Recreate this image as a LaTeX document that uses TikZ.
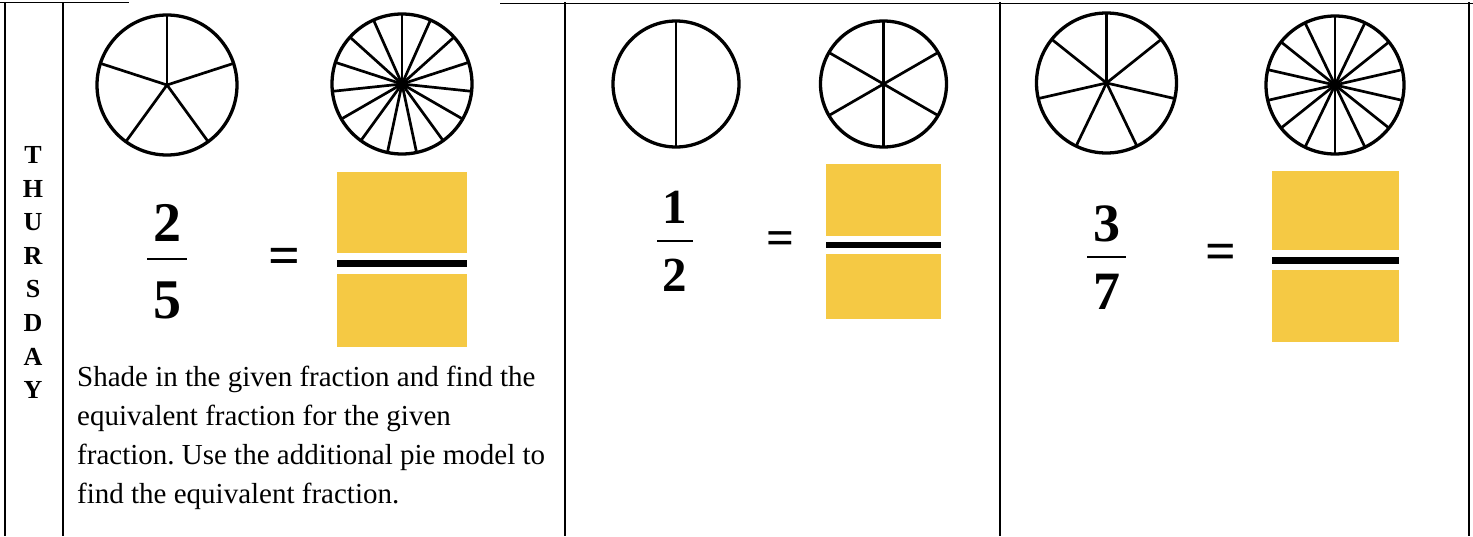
\documentclass[tikz,border=0pt]{standalone}
\usepackage{fontspec}
\setmainfont{Liberation Serif}
\usepackage{tikz}
\usetikzlibrary{positioning}
\definecolor{boxyellow}{RGB}{245,201,68}
\frenchspacing

\tikzset{
  rule/.style={line width=1.6pt},
  thin rule/.style={line width=1pt},
  rim/.style={line width=3.3pt},
  spoke/.style={line width=2.7pt},
  fracbar/.style={line width=2.2pt},
  answer/.style={fill=boxyellow, inner sep=0pt, minimum width=#1},
  answerbar/.style={fill=black, inner sep=0pt, minimum width=#1},
  numeral/.style={font=\fontsize{#1}{#1}\selectfont\bfseries, inner sep=0pt},
}

% pie model: name, centre, radius, parts
\newcommand{\piemodel}[4]{%
  \coordinate (#1) at #2;
  \foreach \k in {1,...,#4}
    \draw[spoke] (#1) -- ++({90+360*(\k-1)/#4}:#3pt);
  \draw[rim] (#1) circle[radius=#3pt];
}

\begin{document}
\begin{tikzpicture}[x=1pt, y=-1pt]
  \useasboundingbox (0,0) rectangle (1473,536);

  % table rules
  \draw[rule] (5,2) -- (5,536);
  \draw[rule] (63,2) -- (63,536);
  \draw[rule] (565,2) -- (565,536);
  \draw[rule] (1000,2) -- (1000,536);
  \draw[rule] (1469,2) -- (1469,536);
  \draw[rule] (0,2.5) -- (82,2.5);
  \draw[thin rule] (82,2.5) -- (129,2.5);
  \draw[thin rule] (500,3) -- (1473,3);
  \draw[rule] (547,3.5) -- (591,3.5);
  \draw[rule] (974,3.5) -- (1015,3.5);
  \draw[rule] (1440,3.5) -- (1473,3.5);

  % day label
  \foreach \i/\l in {0/T, 1/H, 2/U, 3/R, 4/S, 5/D, 6/A, 7/Y}
    \node[font=\fontsize{26}{26}\selectfont\bfseries, inner sep=0pt] (day\i) at (33,155+33.6*\i) {\l};

  % first panel: 2/5
  \piemodel{pieA}{(167,85)}{70}{5}
  \piemodel{pieB}{(402,84)}{70}{15}
  \node[numeral=56] (numA) at (167,223) {2};
  \node[numeral=56] (denA) at (167,300) {5};
  \draw[fracbar] (147,259) -- (187,259);
  \node[numeral=56] (eqA) at (284,261) {=};
  \node[answer=130pt, minimum height=81pt] (topA) at (402,212.5) {};
  \node[answerbar=130pt, minimum height=7pt] (barA) at (402,263.5) {};
  \node[answer=130pt, minimum height=73pt] (botA) at (402,310.5) {};
  \node[anchor=north west, inner sep=0pt, align=left, font=\fontsize{29}{39}\selectfont] (task) at (77,366)
    {Shade in the given fraction and find the\\
     equivalent fraction for the given\\
     fraction. Use the additional pie model to\\
     find the equivalent fraction.};

  % second panel: 1/2
  \piemodel{pieC}{(676,84)}{63}{2}
  \piemodel{pieD}{(883.5,84)}{63}{6}
  \node[numeral=49] (numB) at (675,207) {1};
  \node[numeral=49] (denB) at (675,275) {2};
  \draw[fracbar] (657,241) -- (693,241);
  \node[numeral=49] (eqB) at (780,243) {=};
  \node[answer=115pt, minimum height=72pt] (topB) at (883.5,200) {};
  \node[answerbar=115pt, minimum height=6pt] (barB) at (883.5,245) {};
  \node[answer=115pt, minimum height=65pt] (botB) at (883.5,286.5) {};

  % third panel: 3/7
  \piemodel{pieE}{(1106.5,83)}{70}{7}
  \piemodel{pieF}{(1335,85)}{69}{14}
  \node[numeral=54] (numC) at (1107,224) {3};
  \node[numeral=54] (denC) at (1107,292) {7};
  \draw[fracbar] (1087,257) -- (1126,257);
  \node[numeral=54] (eqC) at (1221,257) {=};
  \node[answer=127pt, minimum height=79pt] (topC) at (1335.5,210.5) {};
  \node[answerbar=127pt, minimum height=7pt] (barC) at (1335.5,260.5) {};
  \node[answer=127pt, minimum height=72pt] (botC) at (1335.5,306) {};
\end{tikzpicture}
\end{document}
